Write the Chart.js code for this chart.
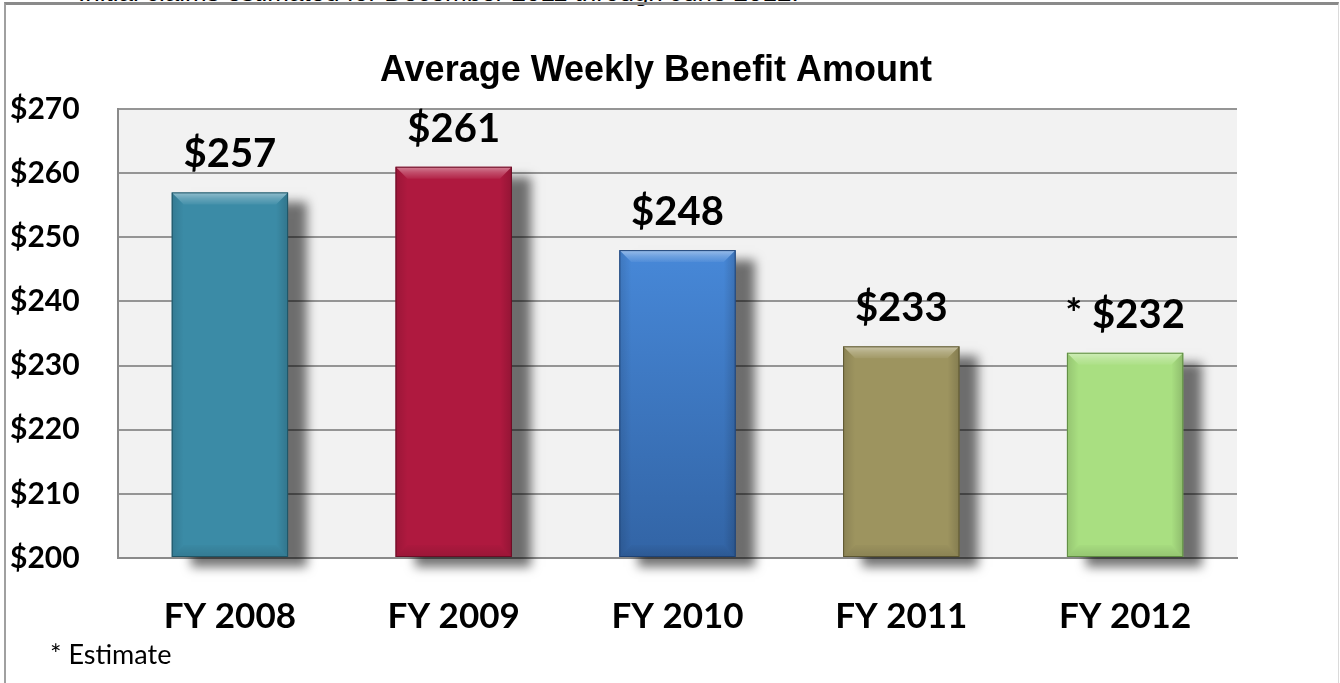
<!DOCTYPE html>
<html>
<head>
<meta charset="utf-8">
<script src="https://cdn.jsdelivr.net/npm/chart.js@4.4.1/dist/chart.umd.min.js"></script>
<style>
  html, body { margin: 0; padding: 0; background: #fff; overflow: hidden; }
  #wrap { position: relative; width: 1340px; height: 683px; overflow: hidden; }
  #frame { position: absolute; left: 4px; top: 2px; width: 1332px; height: 700px;
           border-top: 3px solid #8a8a8a; border-left: 2px solid #a0a0a0; border-right: 1px solid #dadada; }
  #above { position: absolute; left: 78px; top: -21px; white-space: nowrap;
           font: 26px/26px "Liberation Sans", Arial, sans-serif; color: #000; }
  #note { position: absolute; left: 50px; top: 640px; font: 27px/27px Lato, sans-serif; color: #000; }
  canvas { position: absolute; left: 0; top: 0; }
</style>
</head>
<body>
<div id="wrap">
  <div id="above">Initial claims estimated for December 2011 through June 2012.</div>
  <div id="frame"></div>
  <canvas id="awba" width="1340" height="683"></canvas>
  <div id="note">* Estimate</div>
</div>
<script>
// data
const YEARS = ['FY 2008', 'FY 2009', 'FY 2010', 'FY 2011', 'FY 2012'];
const AMOUNTS = [257, 261, 248, 233, 232];
const VALUE_LABELS = ['$257', '$261', '$248', '$233', '* $232'];
const Y_MIN = 200;
const Y_MAX = 270;
const Y_STEP = 10;

// bar colours (top / bottom of fill, outline)
const BAR_TOP = ['#3B8BA6', '#AF193F', '#4788D8', '#9D945F', '#A9DF81'];
const BAR_BOTTOM = ['#3B8BA6', '#AF193F', '#3264A5', '#9D945F', '#A9DF81'];
const BAR_EDGE = ['#1f5566', '#6a0d25', '#1d4275', '#5c5630', '#5f8c42'];

const LABEL_FONT = 'Lato, "Open Sans", sans-serif';

// grey plot background
const plotBackground = {
  id: 'plotBackground',
  beforeDraw(chart) {
    const { ctx, chartArea: a } = chart;
    ctx.save();
    ctx.fillStyle = '#f2f2f2';
    ctx.fillRect(a.left, a.top, a.right - a.left, a.bottom - a.top);
    ctx.restore();
  }
};

// drop shadow behind the bars, then bevel, outline and value labels on top
const barDecor = {
  id: 'barDecor',
  beforeDatasetsDraw(chart) {
    const ctx = chart.ctx;
    ctx.save();
    ctx.shadowColor = 'rgba(0, 0, 0, 0.55)';
    ctx.shadowBlur = 10;
    ctx.shadowOffsetX = 19;
    ctx.shadowOffsetY = 10;
  },
  afterDatasetsDraw(chart) {
    const ctx = chart.ctx;
    ctx.restore();
    const bars = chart.getDatasetMeta(0).data;
    bars.forEach((bar, i) => {
      const l = bar.x - bar.width / 2;
      const r = bar.x + bar.width / 2;
      const t = bar.y;
      const b = bar.base;
      const bv = 12;
      ctx.save();
      // top bevel
      let g = ctx.createLinearGradient(0, t, 0, t + bv);
      g.addColorStop(0, 'rgba(255,255,255,0.45)');
      g.addColorStop(0.5, 'rgba(255,255,255,0.22)');
      g.addColorStop(1, 'rgba(255,255,255,0.05)');
      ctx.fillStyle = g;
      ctx.beginPath();
      ctx.moveTo(l, t); ctx.lineTo(r, t); ctx.lineTo(r - bv, t + bv); ctx.lineTo(l + bv, t + bv);
      ctx.closePath(); ctx.fill();
      // bottom bevel
      g = ctx.createLinearGradient(0, b - bv, 0, b);
      g.addColorStop(0, 'rgba(0,0,0,0.02)');
      g.addColorStop(1, 'rgba(0,0,0,0.12)');
      ctx.fillStyle = g;
      ctx.beginPath();
      ctx.moveTo(l + bv, b - bv); ctx.lineTo(r - bv, b - bv); ctx.lineTo(r, b); ctx.lineTo(l, b);
      ctx.closePath(); ctx.fill();
      // side shading
      g = ctx.createLinearGradient(l, 0, l + bv, 0);
      g.addColorStop(0, 'rgba(0,0,0,0.12)');
      g.addColorStop(1, 'rgba(0,0,0,0)');
      ctx.fillStyle = g;
      ctx.beginPath();
      ctx.moveTo(l, t); ctx.lineTo(l + bv, t + bv); ctx.lineTo(l + bv, b - bv); ctx.lineTo(l, b);
      ctx.closePath(); ctx.fill();
      g = ctx.createLinearGradient(r, 0, r - bv, 0);
      g.addColorStop(0, 'rgba(0,0,0,0.16)');
      g.addColorStop(1, 'rgba(0,0,0,0)');
      ctx.fillStyle = g;
      ctx.beginPath();
      ctx.moveTo(r, t); ctx.lineTo(r - bv, t + bv); ctx.lineTo(r - bv, b - bv); ctx.lineTo(r, b);
      ctx.closePath(); ctx.fill();
      // outline
      ctx.strokeStyle = BAR_EDGE[i];
      ctx.lineWidth = 1;
      ctx.strokeRect(l + 0.5, t + 0.5, r - l - 1, b - t - 1);
      // value label
      ctx.fillStyle = '#000';
      ctx.font = 'bold 40px ' + LABEL_FONT;
      ctx.textAlign = 'center';
      ctx.textBaseline = 'alphabetic';
      ctx.fillText(VALUE_LABELS[i], bar.x, t - 25);
      ctx.restore();
    });
  }
};

// chart title, slightly left of centre like the original
const titleText = {
  id: 'titleText',
  afterDraw(chart) {
    const ctx = chart.ctx;
    ctx.save();
    ctx.fillStyle = '#000';
    ctx.font = 'bold 36px "Liberation Sans", Arial, sans-serif';
    ctx.textAlign = 'center';
    ctx.textBaseline = 'alphabetic';
    ctx.fillText('Average Weekly Benefit Amount', chart.width / 2 - 14, 81);
    ctx.restore();
  }
};

function barFill(context) {
  const i = context.dataIndex;
  if (BAR_TOP[i] === BAR_BOTTOM[i]) return BAR_TOP[i];
  const chart = context.chart;
  if (!chart.chartArea) return BAR_TOP[i];
  const y = chart.scales.y;
  const g = chart.ctx.createLinearGradient(0, y.getPixelForValue(AMOUNTS[i]), 0, y.getPixelForValue(Y_MIN));
  g.addColorStop(0, BAR_TOP[i]);
  g.addColorStop(1, BAR_BOTTOM[i]);
  return g;
}

new Chart(document.getElementById('awba'), {
  type: 'bar',
  data: {
    labels: YEARS,
    datasets: [{
      data: AMOUNTS,
      base: Y_MIN,
      backgroundColor: barFill,
      borderWidth: 0,
      categoryPercentage: 1,
      barPercentage: 0.52,
      clip: false
    }]
  },
  options: {
    responsive: false,
    animation: false,
    devicePixelRatio: 1,
    layout: { padding: { left: 10, right: 103, top: 109, bottom: 0 } },
    plugins: {
      legend: { display: false },
      title: { display: false },
      tooltip: { enabled: false }
    },
    scales: {
      y: {
        min: Y_MIN,
        max: Y_MAX,
        afterFit(scale) { scale.width = 108; },
        ticks: {
          stepSize: Y_STEP,
          crossAlign: 'far',
          color: '#000',
          font: { family: LABEL_FONT, size: 30, weight: 'bold' },
          callback: v => '$' + v
        },
        grid: { color: '#959595', lineWidth: 2, drawTicks: false },
        border: { display: true, color: '#8a8a8a', width: 2 }
      },
      x: {
        afterFit(scale) { scale.height = 125; },
        ticks: {
          color: '#000',
          padding: 38,
          font: { family: LABEL_FONT, size: 35, weight: 'bold' }
        },
        grid: { display: false, drawTicks: false },
        border: { display: true, color: '#8a8a8a', width: 2 }
      }
    }
  },
  plugins: [plotBackground, barDecor, titleText]
});
</script>
</body>
</html>
